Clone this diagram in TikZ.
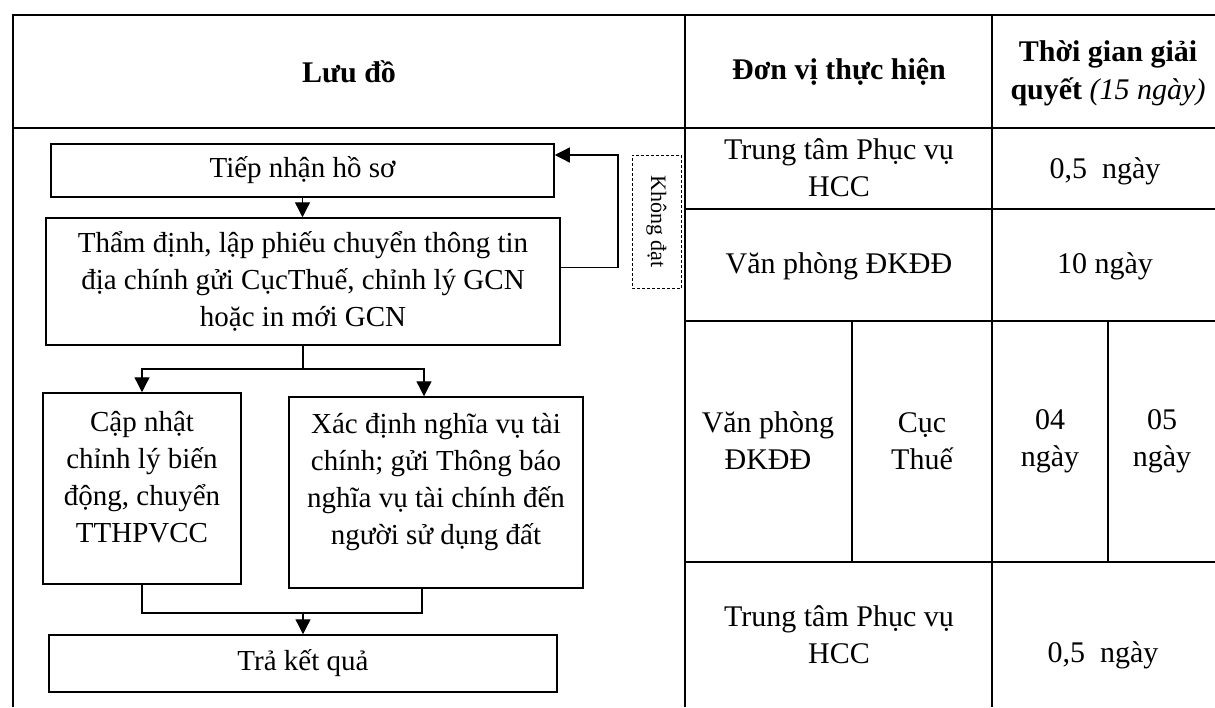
\documentclass[tikz,border=0pt]{standalone}
\usepackage{fontspec}
\setmainfont{Liberation Serif}
\usepackage{tikz}
\usetikzlibrary{arrows.meta,positioning,calc}
\tikzset{
  stepbox/.style={draw,line width=1.5pt,align=center,inner sep=2pt,font=\fontsize{29}{37}\selectfont},
  notebox/.style={draw,densely dashed,line width=1pt,inner sep=2pt,font=\fontsize{22}{24}\selectfont},
  flowline/.style={line width=1.3pt},
  flowarrow/.style={line width=1.3pt,-{Triangle[length=15pt,width=15pt]}},
  gridline/.style={line width=1.5pt},
  celltext/.style={align=center,font=\fontsize{30}{37}\selectfont},
  headtext/.style={align=center,font=\bfseries\fontsize{30}{38}\selectfont},
}

\begin{document}
\begin{tikzpicture}[x=1pt,y=-1pt]
  \useasboundingbox (0,0) rectangle (1215,707);
  \draw[gridline] (1215,15) -- (13,15) -- (13,707);
  \draw[gridline] (13,128) -- (1215,128);
  \draw[gridline] (685,15) -- (685,707);
  \draw[gridline] (992,15) -- (992,707);
  \draw[gridline] (685,209) -- (1215,209);
  \draw[gridline] (685,321) -- (1215,321);
  \draw[gridline] (685,562) -- (1215,562);
  \draw[gridline] (852,321) -- (852,562);
  \draw[gridline] (1108,321) -- (1108,562);

  \node[headtext] (luudo) at (349,72) {Lưu đồ};
  \node[headtext] (donvi) at (839,72) {Đơn vị thực hiện};
  \node[headtext] (thoigian) at (1108,73) {Thời gian giải\\quyết {\mdseries\itshape(15 ngày)}};

  \node[stepbox,minimum width=503pt,minimum height=53pt] (tiep) at (302.5,170.5) {Tiếp nhận hồ sơ};
  \node[stepbox,minimum width=514pt,minimum height=127pt] (tham) at (303,281.5)
    {Thẩm định, lập phiếu chuyển thông tin\\địa chính gửi CụcThuế, chỉnh lý GCN\\hoặc in mới GCN};
  \node[stepbox,minimum width=198pt,minimum height=191pt,text depth=24pt] (capnhat) at (142,488.5)
    {Cập nhật\\chỉnh lý biến\\động, chuyển\\TTHPVCC};
  \node[stepbox,minimum width=294pt,minimum height=191pt,text depth=28pt] (xacdinh) at (436,492.5)
    {Xác định nghĩa vụ tài\\chính; gửi Thông báo\\nghĩa vụ tài chính đến\\người sử dụng đất};
  \node[stepbox,minimum width=508pt,minimum height=57pt] (trakq) at (303,663.5) {Trả kết quả};
  \node[notebox,rotate=-90,minimum width=133pt,minimum height=49pt] (khongdat) at (656.5,221.5) {Không đạt};

  \coordinate (loop) at (618,155);
  \coordinate (fork) at (303,369);
  \coordinate (merge) at (303,613);

  \draw[flowarrow] (tiep.south) -- (tiep.south |- tham.north);
  \draw[flowarrow] ([yshift=14pt]tham.east) -| (loop) -- (tiep.east |- loop);
  \draw[flowline] (tham.south) -- (fork);
  \draw[flowarrow] (fork) -| (capnhat.north);
  \draw[flowarrow] (fork) -| ([xshift=-12pt]xacdinh.north);
  \draw[flowline] (capnhat.south) |- (merge);
  \draw[flowline] ([xshift=-14pt]xacdinh.south) |- (merge);
  \draw[flowarrow] (merge) -- (trakq.north);

  \node[celltext] (hcc1) at (839,168) {Trung tâm Phục vụ\\HCC};
  \node[celltext] (time1) at (1105,171) {0,5\ \ ngày};
  \node[celltext] (vpdk1) at (839,266) {Văn phòng ĐKĐĐ};
  \node[celltext] (time2) at (1105,266) {10 ngày};
  \node[celltext] (vpdk2) at (768,441) {Văn phòng\\ĐKĐĐ};
  \node[celltext] (cucthue) at (922,441) {Cục\\Thuế};
  \node[celltext] (time3) at (1050,441) {04\\ngày};
  \node[celltext] (time4) at (1162,441) {05\\ngày};
  \node[celltext] (hcc2) at (839,635) {Trung tâm Phục vụ\\HCC};
  \node[celltext] (time5) at (1103,655) {0,5\ \ ngày};
\end{tikzpicture}
\end{document}
